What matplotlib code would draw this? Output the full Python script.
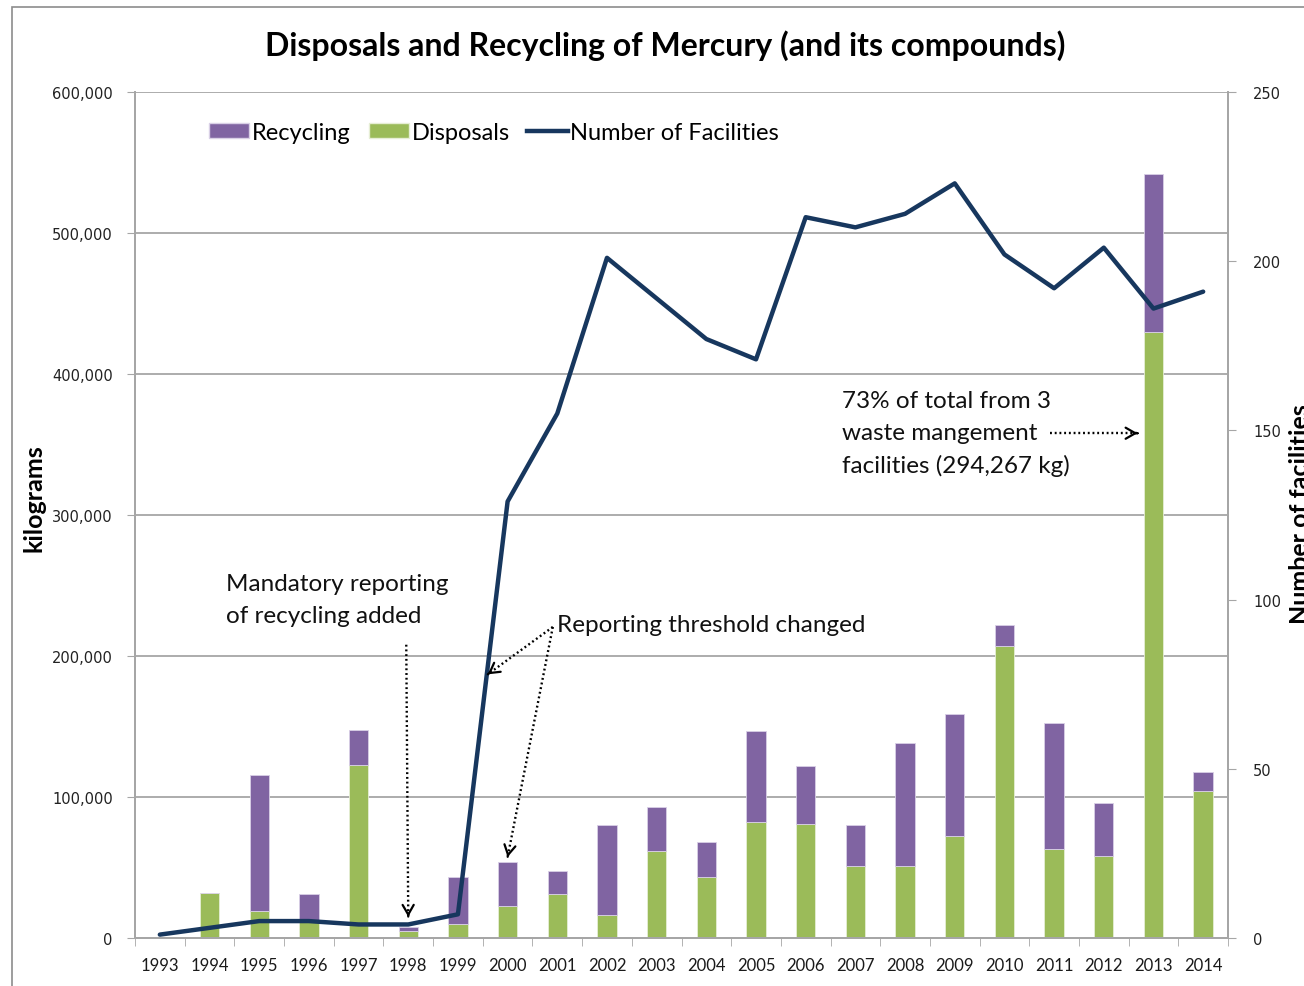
import matplotlib
matplotlib.use("Agg")
import matplotlib.pyplot as plt
import matplotlib.patches as mpatches
from matplotlib.lines import Line2D
from matplotlib.ticker import FuncFormatter
import numpy as np

years = ["1993", "1994", "1995", "1996", "1997", "1998", "1999", "2000", "2001", "2002", "2003",
         "2004", "2005", "2006", "2007", "2008", "2009", "2010", "2011", "2012", "2013", "2014"]
disposals = [0, 32000, 19000, 12000, 123000, 5000, 10000, 23000, 31000, 16000, 62000,
             43500, 82000, 81000, 51000, 51000, 72000, 207000, 63000, 58500, 430000, 104500]
recycling = [0, 0, 96600, 19000, 24700, 2600, 33500, 30700, 16300, 63900, 31100,
             24300, 64600, 41200, 28900, 87300, 86900, 15000, 89200, 37500, 111900, 13000]
facilities = [1, 3, 5, 5, 4, 4, 7, 129, 155, 201, 189,
              177, 171, 213, 210, 214, 223, 202, 192, 204, 186, 191]

PURPLE = "#8064A2"
GREEN = "#9BBB59"
NAVY = "#17375E"
GRID = "#A6A6A6"
TXT = "Lato"

fig = plt.figure(figsize=(13.04, 9.87), dpi=100)
ax = fig.add_axes([135/1304, 1-939/987, (1228-135)/1304, (939-93)/987])
ax2 = ax.twinx()

x = np.arange(len(years))
w = 0.39
ax.bar(x, disposals, width=w, color=GREEN, edgecolor="#E6EED5", linewidth=0.6, zorder=2)
ax.bar(x, recycling, width=w, bottom=disposals, color=PURPLE, edgecolor="#D9D0E6", linewidth=0.6, zorder=2)
ax2.plot(x, facilities, color=NAVY, lw=3.2, solid_joinstyle="round", solid_capstyle="round", zorder=5)

ax.set_xlim(-0.5, len(years) - 0.5)
ax.set_ylim(0, 600000)
ax2.set_ylim(0, 250)
ax.set_yticks(np.arange(0, 600001, 100000))
ax2.set_yticks(np.arange(0, 251, 50))
ax.yaxis.set_major_formatter(FuncFormatter(lambda v, p: f"{int(v):,}"))
ax.grid(axis="y", color=GRID, lw=1.3)
ax.set_axisbelow(True)

ax.set_xticks(x)
ax.set_xticklabels(years, fontfamily=TXT, fontsize=12, color="#1a1a1a")
ax.set_xticks(np.arange(-0.5, len(years), 1), minor=True)
ax.tick_params(axis="x", which="major", length=0, pad=14)
ax.tick_params(axis="x", which="minor", length=6, color=GRID, direction="out")
ax.tick_params(axis="y", length=6, color=GRID, labelsize=10.5, pad=10, labelcolor="#222222")
ax2.tick_params(axis="y", length=6, color=GRID, labelsize=10.5, pad=12, labelcolor="#222222")
for a in (ax, ax2):
    a.spines["top"].set_visible(False)
    for s in ("left", "right", "bottom"):
        a.spines[s].set_color(GRID)
        a.spines[s].set_linewidth(1.3)

fig.text(665/1304, 1-46/987, "Disposals and Recycling of Mercury (and its compounds)",
         ha="center", va="center", fontfamily=TXT, fontweight="bold", fontsize=23)
fig.text(34/1304, 1-498/987, "kilograms", rotation=90, ha="center", va="center",
         fontfamily=TXT, fontweight="bold", fontsize=18)
fig.text(1301/1304, 1-514/987, "Number of facilities", rotation=90, ha="center", va="center",
         fontfamily=TXT, fontweight="bold", fontsize=18)

handles = [mpatches.Patch(facecolor=PURPLE, edgecolor="#D9D0E6"),
           mpatches.Patch(facecolor=GREEN, edgecolor="#E6EED5"),
           Line2D([0], [0], color=NAVY, lw=3.2)]
leg = ax2.legend(handles, ["Recycling", "Disposals", "Number of Facilities"], ncol=3,
                 loc="center left", bbox_to_anchor=((188-135)/1093, (939-133)/846),
                 frameon=False, prop={"family": TXT, "size": 17}, handlelength=1.7,
                 handleheight=0.6, handletextpad=0.12, columnspacing=0.75)

afont = {"family": TXT, "size": 17.5}
ax2.text(1.33, 240000/2400, "Mandatory reporting\nof recycling added", ha="left", va="center",
         linespacing=1.65, fontdict=afont, color="#111111")
ax2.text(7.99, 222000/2400, "Reporting threshold changed", ha="left", va="center",
         fontdict=afont, color="#111111")
ax2.text(13.73, 358000/2400, "73% of total from 3\nwaste mangement\nfacilities (294,267 kg)",
         ha="left", va="center", linespacing=1.62, fontdict=afont, color="#111111")

def dotted_arrow(start, end):
    s = (start[0], start[1]/2400)
    e = (end[0], end[1]/2400)
    ax2.plot([s[0], e[0]], [s[1], e[1]], color="black", lw=1.7,
             linestyle=(0, (0.8, 1.2)), dash_capstyle="butt", zorder=6)
    dx, dy = e[0]-s[0], e[1]-s[1]
    ax2.annotate("", xy=e, xytext=(e[0]-dx*0.001, e[1]-dy*0.001),
                 arrowprops=dict(arrowstyle="->,head_length=0.7,head_width=0.4", lw=1.6,
                                 color="black", shrinkA=0, shrinkB=0), zorder=6)

dotted_arrow((4.96, 208000), (5.0, 15000))
dotted_arrow((7.91, 220600), (6.6, 187000))
dotted_arrow((7.91, 220600), (7.0, 57400))
dotted_arrow((17.91, 358000), (19.68, 358000))

frame = mpatches.Rectangle((12/1304, -0.05), 1.2, 1-8/987+0.05, transform=fig.transFigure,
                           fill=False, edgecolor="#8C8C8C", lw=1.2, clip_on=False)
fig.patches.append(frame)

fig.savefig("out.png", dpi=100)
